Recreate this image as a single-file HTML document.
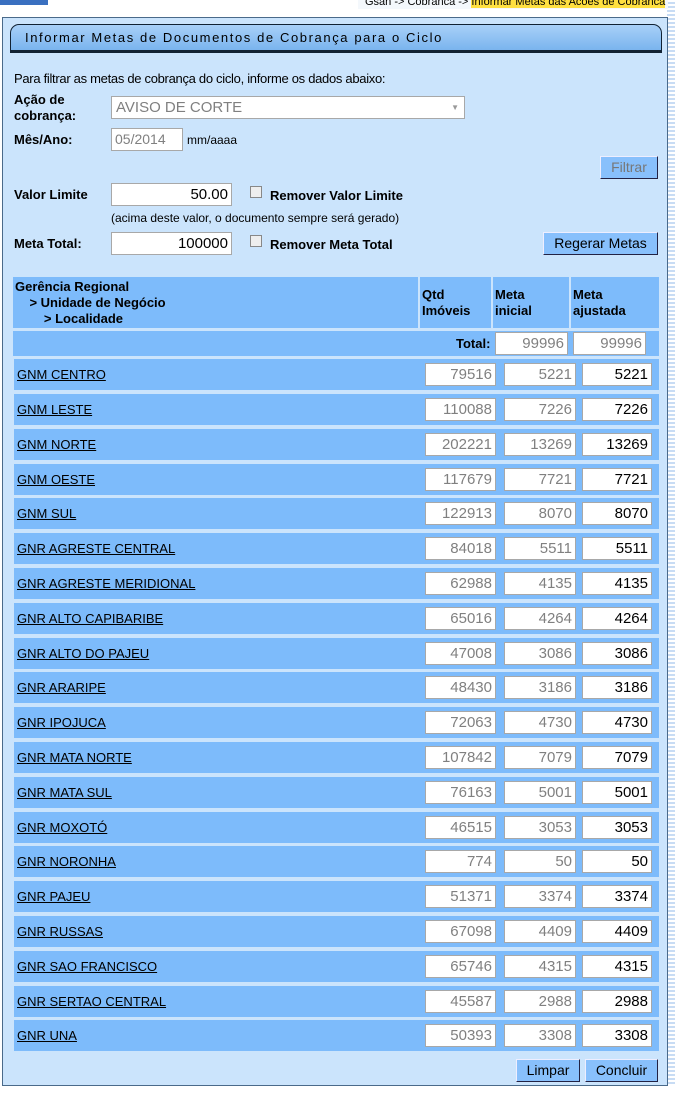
<!DOCTYPE html>
<html><head><meta charset="utf-8"><style>
*{box-sizing:border-box}
body{margin:0;width:675px;height:1103px;background:#fff;font-family:"Liberation Sans",sans-serif;font-size:13px;position:relative;overflow:hidden;color:#000}
.stripe{position:absolute;left:667px;top:0;width:8px;height:1085px;background:repeating-linear-gradient(#fff 0 2px,#c8dcf4 2px 4px)}
.panel{position:absolute;left:2px;top:17px;width:666px;height:1069px;background:#cbe4fc;border:1px solid #4a6a8a}
.a{position:absolute;white-space:nowrap}
.b{font-weight:bold}
.inp{position:absolute;background:#fff;border:1px solid #a8a8a8;text-align:right;padding-right:3px;font-size:15px;line-height:21px;height:23px}
.g{color:#808080}
.btn{position:absolute;background:#88c0fc;border:1px solid #224;border-top-color:#eef;border-left-color:#eef;text-align:center;font-size:14px;line-height:20px;height:23px}
.row{position:absolute;left:14px;width:645px;height:31px;background:#7dbbfb}
.row u{position:absolute;left:3px;top:8px;font-size:13px}
.row .inp{top:4px}
.hc{position:absolute;top:277px;height:51px;background:#7dbbfb;font-weight:bold;line-height:16px;padding:2px 2px}
</style></head><body>
<div class="stripe"></div>
<div class="a" style="left:0;top:0;width:48px;height:5px;background:#3a70c0"></div>
<div class="a" style="left:358px;top:-4px;width:310px;height:13px;background:#f4f8fc"></div>
<div class="a" style="left:365px;top:-4px;font-size:11px">Gsan -&gt; Cobranca -&gt; <span style="background:#ffe040">Informar Metas das Acoes de Cobranca</span></div>
<div class="panel"></div>
<div class="a" style="left:10px;top:24px;width:652px;height:27px;background:linear-gradient(#a8d0f8,#7ab4ee);border:1px solid #123;border-radius:9px 9px 0 0;box-shadow:0 2px 0 #123"></div>
<div class="a" style="left:25px;top:30px;font-size:13px;letter-spacing:1.6px">Informar Metas de Documentos de Cobrança para o Ciclo</div>
<div class="a" style="left:14px;top:71px;letter-spacing:-0.3px">Para filtrar as metas de cobrança do ciclo, informe os dados abaixo:</div>
<div class="a b" style="left:14px;top:92px;line-height:16px">Ação de<br>cobrança:</div>
<div class="inp g" style="left:111px;top:96px;width:354px;text-align:left;padding-left:4px;font-size:15px">AVISO DE CORTE<span style="position:absolute;right:5px;top:0;font-size:8px;color:#999">▼</span></div>
<div class="a b" style="left:14px;top:132px">Mês/Ano:</div>
<div class="inp g" style="left:111px;top:128px;width:72px;text-align:left;padding-left:3px;font-size:14px">05/2014</div>
<div class="a" style="left:187px;top:133px;font-size:12px">mm/aaaa</div>
<div class="btn g" style="left:600px;top:156px;width:58px;color:#777">Filtrar</div>
<div class="a b" style="left:14px;top:187px">Valor Limite</div>
<div class="inp" style="left:111px;top:183px;width:121px">50.00</div>
<div class="a" style="left:250px;top:186px;width:12px;height:12px;border:1px solid #888;background:#eee"></div>
<div class="a b" style="left:270px;top:188px">Remover Valor Limite</div>
<div class="a" style="left:111px;top:211px;font-size:12px">(acima deste valor, o documento sempre será gerado)</div>
<div class="a b" style="left:14px;top:236px">Meta Total:</div>
<div class="inp" style="left:111px;top:232px;width:121px">100000</div>
<div class="a" style="left:250px;top:235px;width:12px;height:12px;border:1px solid #888;background:#eee"></div>
<div class="a b" style="left:270px;top:237px">Remover Meta Total</div>
<div class="btn" style="left:543px;top:232px;width:115px">Regerar Metas</div>
<div class="hc" style="left:13px;width:405px;top:277px">Gerência Regional<br>&nbsp;&nbsp;&nbsp;&nbsp;&gt; Unidade de Negócio<br>&nbsp;&nbsp;&nbsp;&nbsp;&nbsp;&nbsp;&nbsp;&nbsp;&gt; Localidade</div>
<div class="hc" style="left:420px;width:71px;padding-top:10px">Qtd<br>Imóveis</div>
<div class="hc" style="left:493px;width:76px;padding-top:10px">Meta<br>inicial</div>
<div class="hc" style="left:571px;width:88px;padding-top:10px">Meta<br>ajustada</div>
<div class="a" style="left:13px;top:331px;width:646px;height:25px;background:#7dbbfb"></div>
<div class="a b" style="left:456px;top:336px">Total:</div>
<div class="inp g" style="left:495px;top:332px;width:73px">99996</div>
<div class="inp g" style="left:573px;top:332px;width:73px">99996</div>
<div class="row" style="top:359px"><u>GNM CENTRO</u><div class="inp g" style="left:411px;width:71px">79516</div><div class="inp g" style="left:490px;width:72px">5221</div><div class="inp" style="left:568px;width:70px">5221</div></div>
<div class="row" style="top:394px"><u>GNM LESTE</u><div class="inp g" style="left:411px;width:71px">110088</div><div class="inp g" style="left:490px;width:72px">7226</div><div class="inp" style="left:568px;width:70px">7226</div></div>
<div class="row" style="top:429px"><u>GNM NORTE</u><div class="inp g" style="left:411px;width:71px">202221</div><div class="inp g" style="left:490px;width:72px">13269</div><div class="inp" style="left:568px;width:70px">13269</div></div>
<div class="row" style="top:464px"><u>GNM OESTE</u><div class="inp g" style="left:411px;width:71px">117679</div><div class="inp g" style="left:490px;width:72px">7721</div><div class="inp" style="left:568px;width:70px">7721</div></div>
<div class="row" style="top:498px"><u>GNM SUL</u><div class="inp g" style="left:411px;width:71px">122913</div><div class="inp g" style="left:490px;width:72px">8070</div><div class="inp" style="left:568px;width:70px">8070</div></div>
<div class="row" style="top:533px"><u>GNR AGRESTE CENTRAL</u><div class="inp g" style="left:411px;width:71px">84018</div><div class="inp g" style="left:490px;width:72px">5511</div><div class="inp" style="left:568px;width:70px">5511</div></div>
<div class="row" style="top:568px"><u>GNR AGRESTE MERIDIONAL</u><div class="inp g" style="left:411px;width:71px">62988</div><div class="inp g" style="left:490px;width:72px">4135</div><div class="inp" style="left:568px;width:70px">4135</div></div>
<div class="row" style="top:603px"><u>GNR ALTO CAPIBARIBE</u><div class="inp g" style="left:411px;width:71px">65016</div><div class="inp g" style="left:490px;width:72px">4264</div><div class="inp" style="left:568px;width:70px">4264</div></div>
<div class="row" style="top:638px"><u>GNR ALTO DO PAJEU</u><div class="inp g" style="left:411px;width:71px">47008</div><div class="inp g" style="left:490px;width:72px">3086</div><div class="inp" style="left:568px;width:70px">3086</div></div>
<div class="row" style="top:672px"><u>GNR ARARIPE</u><div class="inp g" style="left:411px;width:71px">48430</div><div class="inp g" style="left:490px;width:72px">3186</div><div class="inp" style="left:568px;width:70px">3186</div></div>
<div class="row" style="top:707px"><u>GNR IPOJUCA</u><div class="inp g" style="left:411px;width:71px">72063</div><div class="inp g" style="left:490px;width:72px">4730</div><div class="inp" style="left:568px;width:70px">4730</div></div>
<div class="row" style="top:742px"><u>GNR MATA NORTE</u><div class="inp g" style="left:411px;width:71px">107842</div><div class="inp g" style="left:490px;width:72px">7079</div><div class="inp" style="left:568px;width:70px">7079</div></div>
<div class="row" style="top:777px"><u>GNR MATA SUL</u><div class="inp g" style="left:411px;width:71px">76163</div><div class="inp g" style="left:490px;width:72px">5001</div><div class="inp" style="left:568px;width:70px">5001</div></div>
<div class="row" style="top:812px"><u>GNR MOXOTÓ</u><div class="inp g" style="left:411px;width:71px">46515</div><div class="inp g" style="left:490px;width:72px">3053</div><div class="inp" style="left:568px;width:70px">3053</div></div>
<div class="row" style="top:846px"><u>GNR NORONHA</u><div class="inp g" style="left:411px;width:71px">774</div><div class="inp g" style="left:490px;width:72px">50</div><div class="inp" style="left:568px;width:70px">50</div></div>
<div class="row" style="top:881px"><u>GNR PAJEU</u><div class="inp g" style="left:411px;width:71px">51371</div><div class="inp g" style="left:490px;width:72px">3374</div><div class="inp" style="left:568px;width:70px">3374</div></div>
<div class="row" style="top:916px"><u>GNR RUSSAS</u><div class="inp g" style="left:411px;width:71px">67098</div><div class="inp g" style="left:490px;width:72px">4409</div><div class="inp" style="left:568px;width:70px">4409</div></div>
<div class="row" style="top:951px"><u>GNR SAO FRANCISCO</u><div class="inp g" style="left:411px;width:71px">65746</div><div class="inp g" style="left:490px;width:72px">4315</div><div class="inp" style="left:568px;width:70px">4315</div></div>
<div class="row" style="top:986px"><u>GNR SERTAO CENTRAL</u><div class="inp g" style="left:411px;width:71px">45587</div><div class="inp g" style="left:490px;width:72px">2988</div><div class="inp" style="left:568px;width:70px">2988</div></div>
<div class="row" style="top:1020px"><u>GNR UNA</u><div class="inp g" style="left:411px;width:71px">50393</div><div class="inp g" style="left:490px;width:72px">3308</div><div class="inp" style="left:568px;width:70px">3308</div></div>
<div class="btn" style="left:516px;top:1059px;width:64px">Limpar</div>
<div class="btn" style="left:585px;top:1059px;width:73px">Concluir</div>
</body></html>
